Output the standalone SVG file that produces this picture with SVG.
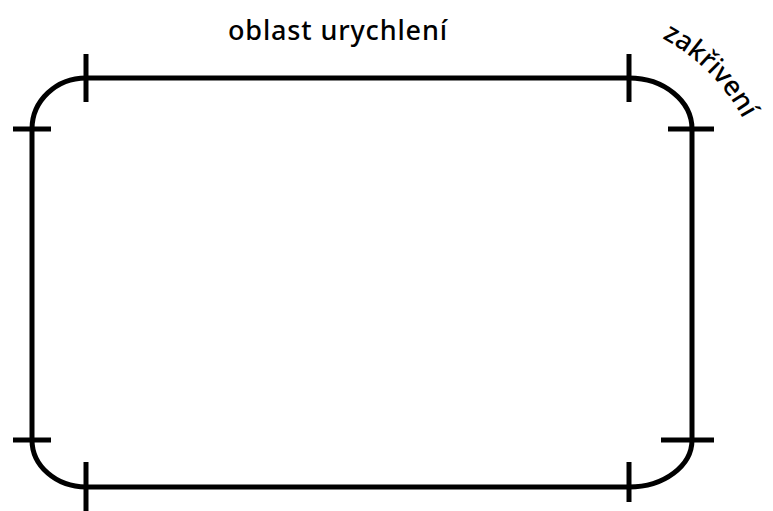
<svg xmlns="http://www.w3.org/2000/svg" width="773" height="511" viewBox="0 0 773 511">
<style>
.track{fill:none;stroke:#000;stroke-width:5}
.tick{stroke:#000;stroke-width:5;fill:none}
.lbl{font-family:"Noto Sans","Open Sans",sans-serif;font-size:27px;font-weight:500;fill:#000}
</style>
<defs>
<path id="arcTxt" d="M 662 38 A 200 200 0 0 1 753 140"/>
</defs>
<rect width="773" height="511" fill="#fff"/>
<g id="track">
<path class="track" d="M 86 78 L 629 78 A 63 51 0 0 1 692 129 L 692 440 A 63 47 0 0 1 629 487 L 86 487 A 54 47 0 0 1 32 440 L 32 129 A 54 51 0 0 1 86 78 Z"/>
</g>
<g id="connectors">
<line class="tick" x1="86" y1="54" x2="86" y2="102"/>
<line class="tick" x1="629" y1="54" x2="629" y2="102"/>
<line class="tick" x1="13" y1="129" x2="51" y2="129"/>
<line class="tick" x1="668" y1="129" x2="714" y2="129"/>
<line class="tick" x1="13" y1="440" x2="51" y2="440"/>
<line class="tick" x1="661" y1="440" x2="714" y2="440"/>
<line class="tick" x1="86" y1="462" x2="86" y2="511"/>
<line class="tick" x1="629" y1="462" x2="629" y2="502"/>
</g>
<g id="label-top">
<text class="lbl" x="228" y="40" textLength="219" lengthAdjust="spacing">oblast urychlení</text>
</g>
<g id="label-curve">
<text class="lbl" font-size="26"><textPath href="#arcTxt">zakřivení</textPath></text>
</g>
</svg>
